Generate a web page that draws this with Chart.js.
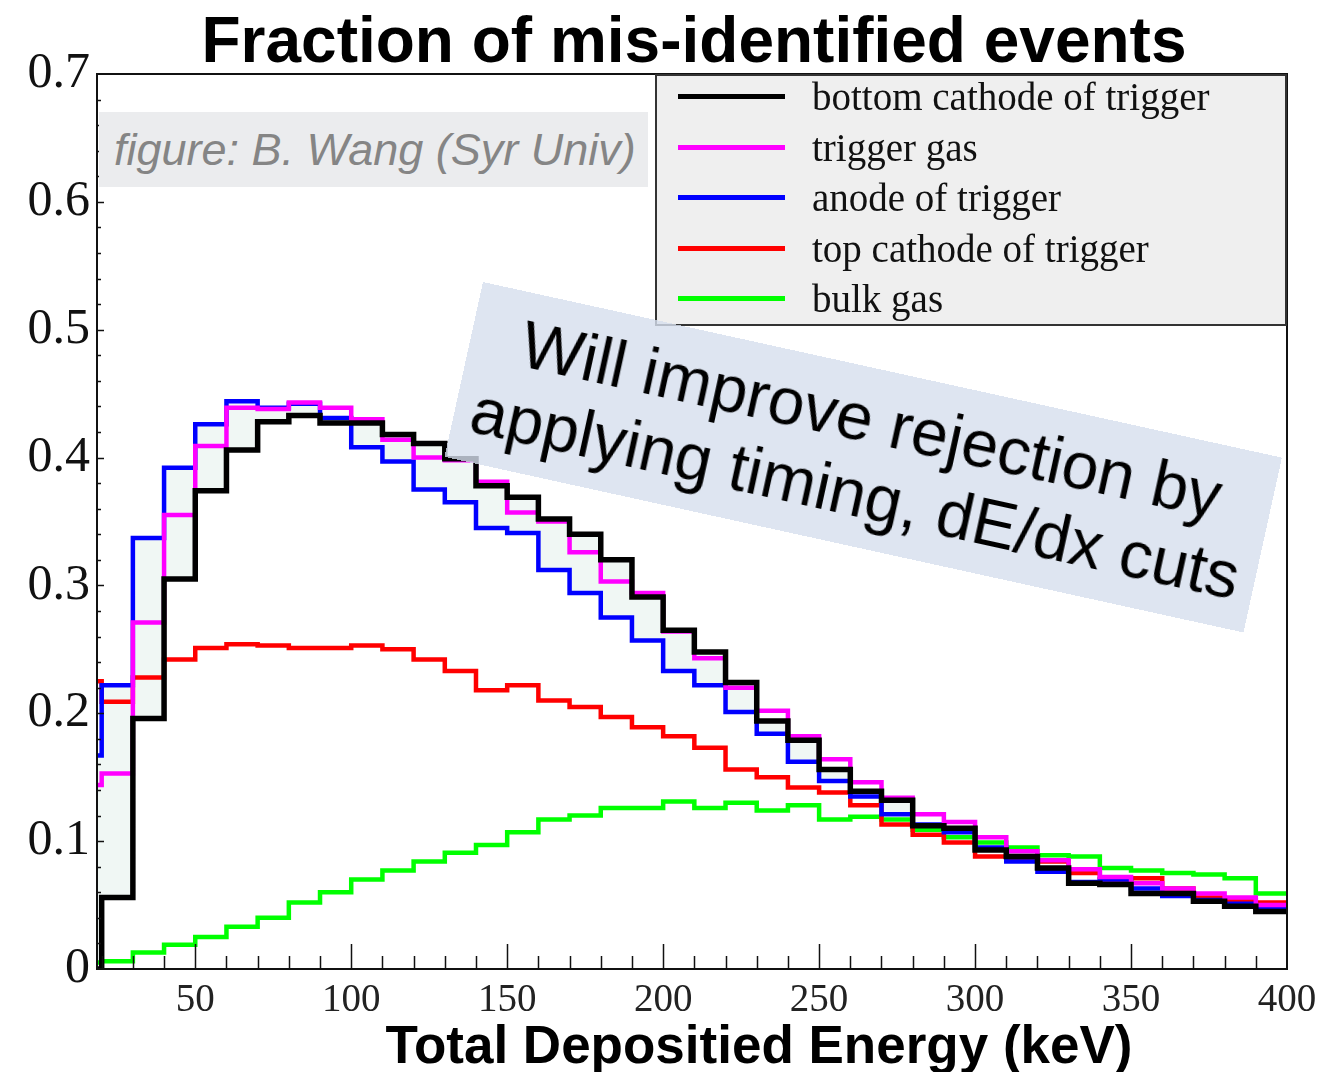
<!DOCTYPE html>
<html lang="en">
<head>
  <meta charset="UTF-8">
  <title>Fraction of mis-identified events</title>
  <script src="https://cdn.jsdelivr.net/npm/chart.js"></script>
  <style>
    html, body { margin: 0; padding: 0; background: #fff; overflow: hidden; }
    #wrap { position: relative; width: 1342px; height: 1072px; }
    #chart { position: absolute; left: 0; top: 0; }
    .title { position: absolute; left: 194px; top: 8px; width: 1000px; text-align: center;
      font: bold 64px/64px "Liberation Sans", Arial, sans-serif; color: #000; white-space: nowrap; }
    .xtitle { position: absolute; left: 259px; top: 1018px; width: 1000px; text-align: center;
      font: bold 53px/53px "Liberation Sans", Arial, sans-serif; color: #000; white-space: nowrap; }
    .credit { position: absolute; left: 99px; top: 112px; width: 549px; height: 75px; box-sizing: border-box;
      padding-left: 15px; background: #ebecee; color: #858585; white-space: nowrap;
      font: italic 45px/75px "Liberation Sans", Arial, sans-serif; }
    #legend { position: absolute; left: 655px; top: 74px; width: 632px; height: 252px; box-sizing: border-box;
      background: #efefef; border: 2px solid #333; }
    #legend .item { position: absolute; left: 0; width: 100%; height: 50px; }
    #legend .swatch { position: absolute; left: 21px; top: 22px; width: 107px; height: 5px; }
    #legend .lab { position: absolute; left: 155px; top: 0; font: 39px/50px "Liberation Serif", "Times New Roman", serif;
      color: #111; white-space: nowrap; }
    .note { position: absolute; left: 483px; top: 282px; width: 818px; height: 179px; box-sizing: border-box;
      padding-top: 14px; transform-origin: 0 0; transform: rotate(12.4deg);
      background: rgba(214, 223, 237, 0.8); text-align: center; color: #000; white-space: nowrap;
      font: 66px/75px "Liberation Sans", Arial, sans-serif; }
  </style>
</head>
<body>
  <div id="wrap">
    <canvas id="chart" width="1342" height="1072"></canvas>
    <div class="title">Fraction of mis-identified events</div>
    <div class="credit">figure: B. Wang (Syr Univ)</div>
    <div id="legend"></div>
    <div class="note">Will improve rejection by<br>applying timing, dE/dx cuts</div>
    <div class="xtitle">Total Depositied Energy (keV)</div>
  </div>

  <script>
    // lower bin edges in keV (first bin is the partial one at the axis edge)
    const binEdges = [18.5, 20, 30, 40, 50, 60, 70, 80, 90, 100, 110, 120, 130, 140, 150, 160, 170, 180, 190,
      200, 210, 220, 230, 240, 250, 260, 270, 280, 290, 300, 310, 320, 330, 340, 350, 360, 370, 380, 390];
    const xMax = 400;
    const xTickValues = [50, 100, 150, 200, 250, 300, 350, 400];
    const yTickValues = [0, 0.1, 0.2, 0.3, 0.4, 0.5, 0.6, 0.7];

    const bottomCathode = [0, 0.056, 0.196, 0.305, 0.374, 0.406, 0.428, 0.433, 0.427, 0.427, 0.418, 0.411,
      0.399, 0.378, 0.369, 0.352, 0.340, 0.320, 0.291, 0.265, 0.248, 0.224, 0.194, 0.179, 0.156, 0.139,
      0.132, 0.112, 0.110, 0.093, 0.088, 0.079, 0.067, 0.066, 0.059, 0.059, 0.053, 0.049, 0.045];
    const triggerGas = [0.144, 0.153, 0.271, 0.355, 0.409, 0.439, 0.438, 0.443, 0.439, 0.430, 0.414, 0.400,
      0.398, 0.381, 0.357, 0.350, 0.326, 0.303, 0.294, 0.264, 0.243, 0.220, 0.202, 0.182, 0.164, 0.146,
      0.134, 0.121, 0.115, 0.103, 0.092, 0.085, 0.078, 0.072, 0.067, 0.063, 0.059, 0.056, 0.050];
    const anode = [0.167, 0.222, 0.337, 0.392, 0.426, 0.444, 0.439, 0.442, 0.431, 0.408, 0.397, 0.375,
      0.365, 0.345, 0.341, 0.312, 0.294, 0.275, 0.257, 0.233, 0.222, 0.201, 0.184, 0.162, 0.147, 0.135,
      0.121, 0.113, 0.107, 0.095, 0.084, 0.076, 0.068, 0.070, 0.063, 0.057, 0.054, 0.051, 0.048];
    const topCathode = [0.225, 0.209, 0.228, 0.242, 0.251, 0.254, 0.253, 0.251, 0.251, 0.253, 0.250, 0.242,
      0.233, 0.218, 0.222, 0.210, 0.205, 0.197, 0.189, 0.182, 0.173, 0.156, 0.150, 0.142, 0.138, 0.128,
      0.113, 0.105, 0.099, 0.088, 0.087, 0.084, 0.075, 0.070, 0.071, 0.063, 0.056, 0.054, 0.052];
    const bulkGas = [0.005, 0.006, 0.013, 0.019, 0.025, 0.033, 0.040, 0.052, 0.060, 0.070, 0.077, 0.084,
      0.091, 0.097, 0.107, 0.117, 0.120, 0.126, 0.126, 0.131, 0.126, 0.130, 0.124, 0.128, 0.117, 0.119,
      0.117, 0.109, 0.103, 0.099, 0.095, 0.089, 0.088, 0.079, 0.077, 0.075, 0.074, 0.071, 0.059];

    // histogram outline: each value holds from its lower edge to the next one
    function steps(vals) {
      const pts = binEdges.map((e, i) => ({ x: e, y: vals[i] }));
      pts.push({ x: xMax, y: vals[vals.length - 1] });
      return pts;
    }

    function series(label, vals, color, width) {
      return { label, data: steps(vals), borderColor: color, backgroundColor: color, borderWidth: width,
        stepped: true, pointRadius: 0, fill: false };
    }

    const datasets = [
      series('bottom cathode of trigger', bottomCathode, '#000000', 5.5),
      series('trigger gas', triggerGas, '#ff00ff', 4.5),
      series('anode of trigger', anode, '#0000ff', 4.5),
      series('top cathode of trigger', topCathode, '#ff0000', 4.5),
      series('bulk gas', bulkGas, '#00ff00', 4.5)
    ];
    // faint tint between the anode and bottom cathode curves
    datasets[2].fill = { target: 0 };
    datasets[2].backgroundColor = 'rgba(222, 238, 230, 0.45)';

    // frame and inward ticks like the original plot
    const frameTicks = {
      id: 'frameTicks',
      afterDatasetsDraw(chart) {
        const { ctx, chartArea: a, scales: { x, y } } = chart;
        ctx.save();
        ctx.strokeStyle = '#111';
        ctx.lineWidth = 1.5;
        ctx.beginPath();
        for (let i = 1; i < 35; i++) {
          const py = Math.round(y.getPixelForValue(i * 0.02)) + 0.5;
          ctx.moveTo(a.left, py);
          ctx.lineTo(a.left + (i % 5 === 0 ? 7 : 4), py);
        }
        for (let v = 20; v < 400; v += 10) {
          const px = Math.round(x.getPixelForValue(v)) + 0.5;
          ctx.moveTo(px, a.bottom);
          ctx.lineTo(px, a.bottom - (v % 50 === 0 ? 25 : 13));
        }
        ctx.stroke();
        ctx.lineWidth = 2;
        ctx.strokeRect(a.left, a.top, a.right - a.left, a.bottom - a.top);
        ctx.restore();
      }
    };

    const chart = new Chart(document.getElementById('chart'), {
      type: 'line',
      data: { datasets },
      options: {
        responsive: false,
        animation: false,
        devicePixelRatio: 1,
        layout: { padding: { top: 74, right: 55, left: 0, bottom: 0 } },
        plugins: {
          legend: { display: false },
          tooltip: { enabled: false },
          filler: { drawTime: 'beforeDatasetsDraw' }
        },
        scales: {
          x: {
            type: 'linear', min: 18.5, max: xMax,
            grid: { display: false, drawTicks: false },
            border: { display: false },
            afterBuildTicks: s => { s.ticks = xTickValues.map(v => ({ value: v })); },
            afterFit: s => { s.height = 103; },
            ticks: { font: { family: 'Liberation Serif', size: 39 }, color: '#222', padding: 8,
              maxRotation: 0, autoSkip: false }
          },
          y: {
            min: 0, max: 0.7,
            grid: { display: false, drawTicks: false },
            border: { display: false },
            afterBuildTicks: s => { s.ticks = yTickValues.map(v => ({ value: v })); },
            afterFit: s => { s.width = 97; },
            ticks: { font: { family: 'Liberation Serif', size: 50 }, color: '#111', padding: 7,
              callback: v => v === 0 ? '0' : v.toFixed(1) }
          }
        }
      },
      plugins: [frameTicks]
    });

    // legend box built from the datasets
    const legend = document.getElementById('legend');
    chart.data.datasets.forEach((d, i) => {
      const item = document.createElement('div');
      item.className = 'item';
      item.style.top = (23 + i * 50.5 - 25 - 2) + 'px';
      item.innerHTML = '<div class="swatch" style="background:' + d.borderColor + '"></div>' +
        '<div class="lab">' + d.label + '</div>';
      legend.appendChild(item);
    });
  </script>
</body>
</html>
